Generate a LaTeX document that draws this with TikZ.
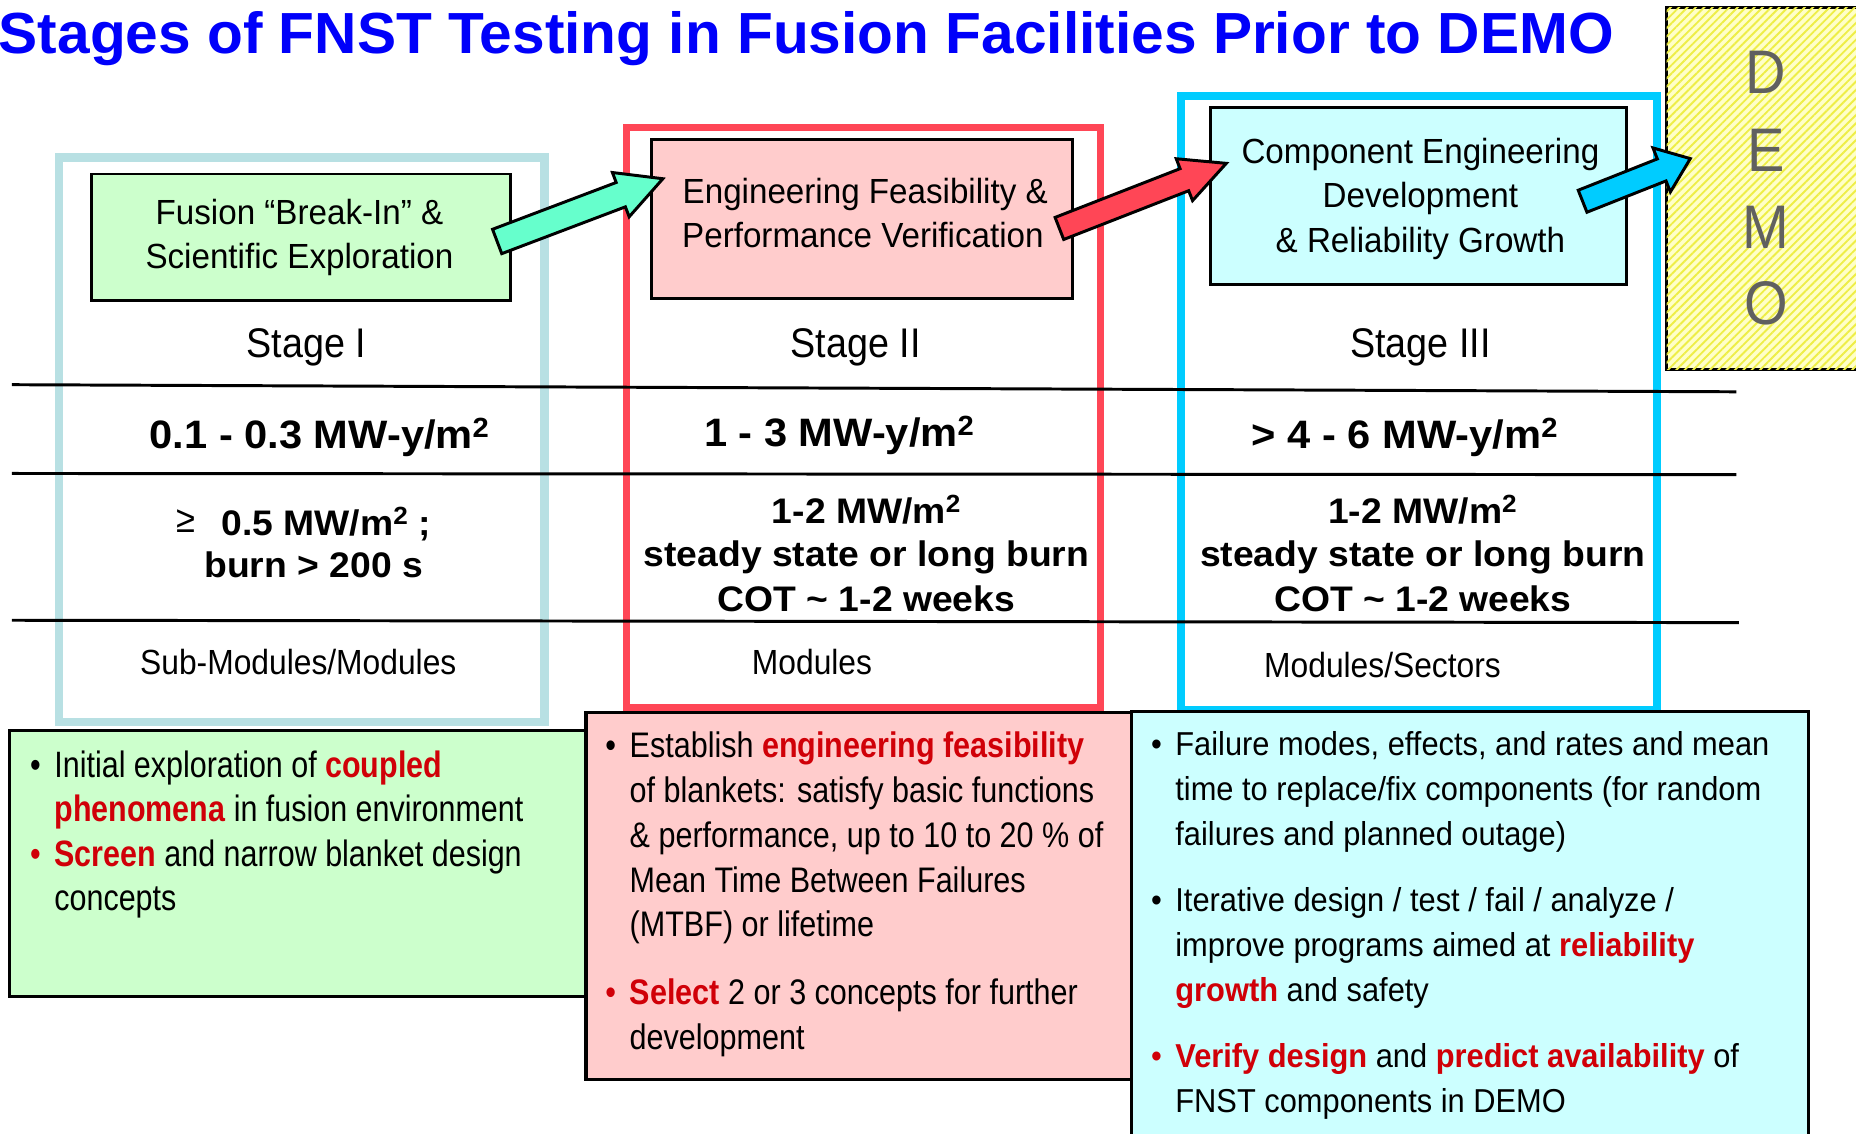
\documentclass[tikz,border=0pt]{standalone}
\usepackage{fontspec}
\setmainfont{Liberation Sans}
\newfontfamily\fTitle[FakeStretch=1.011]{Liberation Sans}
\newfontfamily\fBody[FakeStretch=0.86]{Liberation Sans}
\newfontfamily\fGreen[FakeStretch=0.83]{Liberation Sans}
\newfontfamily\fCyan[FakeStretch=0.93]{Liberation Sans}
\newfontfamily\fHead[FakeStretch=0.95]{Liberation Sans}
\newfontfamily\fStage[FakeStretch=0.91]{Liberation Sans}
\newfontfamily\fBold[FakeStretch=1.05]{Liberation Sans}
\usetikzlibrary{calc,patterns.meta}
\definecolor{titleblue}{RGB}{0,0,250}
\definecolor{frameone}{RGB}{184,224,227}
\definecolor{frametwo}{RGB}{255,70,86}
\definecolor{framethree}{RGB}{0,204,255}
\definecolor{gfill}{RGB}{204,255,204}
\definecolor{pfill}{RGB}{255,204,204}
\definecolor{cfill}{RGB}{204,255,255}
\definecolor{hl}{RGB}{208,0,8}
\definecolor{arrowone}{RGB}{102,255,204}
\definecolor{demogray}{RGB}{96,96,96}
\definecolor{demoyellow}{RGB}{255,255,200}
\definecolor{demoline}{RGB}{238,238,70}
\newcommand\hlt[1]{\textcolor{hl}{\bfseries #1}}
\newcommand\blockarrow[6]{%
  \coordinate (#1base) at ($(#2)!#5pt!(#1)$);
  \draw[blk, fill=#6] ($(#1)!#3pt!90:(#2)$) -- ($(#1base)!#3pt!90:(#2)$) -- ($(#1base)!#4pt!90:(#2)$) -- (#2) -- ($(#1base)!#4pt!-90:(#2)$) -- ($(#1base)!#3pt!-90:(#2)$) -- ($(#1)!#3pt!-90:(#2)$) -- cycle;
}
\tikzset{
 txtL/.style={inner sep=0pt, outer sep=0pt, anchor=base west},
 txtC/.style={inner sep=0pt, outer sep=0pt, anchor=base},
 fgreen/.style={font=\fGreen\fontsize{31}{36}\selectfont},
 fpink/.style={font=\fBody\fontsize{30}{36}\selectfont},
 fcyan/.style={font=\fCyan\fontsize{28}{34}\selectfont},
 fhead/.style={font=\fHead\fontsize{29.5}{35}\selectfont},
 fstage/.style={font=\fStage\fontsize{35}{42}\selectfont},
 frowtwo/.style={font=\fBold\bfseries\fontsize{33.5}{40}\selectfont},
 frowthree/.style={font=\fBold\bfseries\fontsize{30}{36}\selectfont},
 frowfour/.style={font=\fStage\fontsize{29.5}{35}\selectfont},
 fdemo/.style={font=\fStage\fontsize{52}{60}\selectfont, text=demogray},
 hbox/.style={draw=black, line width=2.5pt, inner sep=0pt, outer sep=0pt, anchor=north west},
 framebox/.style={line width=7pt, inner sep=0pt, outer sep=0pt, anchor=north west},
 rule/.style={line width=2.5pt},
 blk/.style={draw=black, line width=2.5pt, line join=miter},
}
\begin{document}
\begin{tikzpicture}[x=1pt,y=-1pt]
\clip (0,0) rectangle (1568,958);
\fill[white] (0,0) rectangle (1568,958);

% title
\node[txtL, font=\fTitle\bfseries\fontsize{49}{58}\selectfont, text=titleblue] (title) at (-1,45) {Stages of FNST Testing in Fusion Facilities Prior to DEMO};

% stage frames
\node[framebox, draw=frameone, minimum width=410pt, minimum height=477pt] (stageone) at (50,133) {};
\node[framebox, draw=frametwo, line width=6pt, minimum width=401pt, minimum height=490pt] (stagetwo) at (529,108) {};
\node[framebox, draw=framethree, minimum width=402pt, minimum height=519pt] (stagethree) at (998,81) {};

% DEMO box
\node[draw=black, line width=2.5pt, anchor=north west, inner sep=0pt, outer sep=0pt, minimum width=220pt, minimum height=306pt, fill=demoyellow, postaction={pattern={Lines[angle=45,distance=5pt,line width=1.6pt]}, pattern color=demoline}] (demo) at (1408,6) {};
\node[txtC, fdemo] (demod) at (1492,79) {D};
\node[txtC, fdemo] (demoe) at (1492,145) {E};
\node[txtC, fdemo] (demom) at (1492,210) {M};
\node[txtC, fdemo] (demoo) at (1492,274) {O};

% header boxes
\node[hbox, fill=gfill, minimum width=354pt, minimum height=107pt] (hone) at (77,147) {};
\node[hbox, fill=pfill, minimum width=356pt, minimum height=134pt] (htwo) at (550,118) {};
\node[hbox, fill=cfill, minimum width=351pt, minimum height=149pt] (hthree) at (1023,91) {};

\node[txtC, fhead] (honea) at (253,190) {Fusion “Break-In” \&};
\node[txtC, fhead] (honeb) at (253,227) {Scientific Exploration};
\node[txtC, fhead] (htwoa) at (731,172) {Engineering Feasibility \&};
\node[txtC, fhead] (htwob) at (729,209) {Performance Verification};
\node[txtC, fhead] (hthreea) at (1200,138) {Component Engineering};
\node[txtC, fhead] (hthreeb) at (1200,175) {Development};
\node[txtC, fhead] (hthreec) at (1200,213) {\& Reliability Growth};

% stage labels
\node[txtC, fstage] (sone) at (259,302) {Stage I};
\node[txtC, fstage] (stwo) at (723,302) {Stage II};
\node[txtC, fstage] (sthree) at (1200,302) {Stage III};

% rules
\coordinate (rulea1) at (10,325);
\coordinate (rulea2) at (1467,331);
\coordinate (ruleb1) at (10,400);
\coordinate (ruleb2) at (1467,401);
\coordinate (rulec1) at (10,524);
\coordinate (rulec2) at (1469,526);
\draw[rule] (rulea1) -- (rulea2);
\draw[rule] (ruleb1) -- (ruleb2);
\draw[rule] (rulec1) -- (rulec2);

% row 2
\node[txtC, frowtwo] (fluone) at (270,379) {0.1 - 0.3 MW-y/m\textsuperscript{2}};
\node[txtC, frowtwo] (flutwo) at (709,377) {1 - 3 MW-y/m\textsuperscript{2}};
\node[txtC, frowtwo] (fluthree) at (1187,379) {> 4 - 6 MW-y/m\textsuperscript{2}};

% row 3
\node[txtC, font=\fStage\fontsize{32}{36}\selectfont] (geq) at (157,450) {≥};
\node[txtL, frowthree] (wlonea) at (187,452) {0.5 MW/m\textsuperscript{2} ;};
\node[txtC, frowthree] (wloneb) at (265,488) {burn > 200 s};
\node[txtC, frowthree] (wltwoa) at (732,442) {1-2 MW/m\textsuperscript{2}};
\node[txtC, frowthree] (wltwob) at (732,479) {steady state or long burn};
\node[txtC, frowthree] (wltwoc) at (732,517) {COT \textasciitilde\ 1-2 weeks};
\node[txtC, frowthree] (wlthreea) at (1202,442) {1-2 MW/m\textsuperscript{2}};
\node[txtC, frowthree] (wlthreeb) at (1202,479) {steady state or long burn};
\node[txtC, frowthree] (wlthreec) at (1202,517) {COT \textasciitilde\ 1-2 weeks};

% row 4
\node[txtC, frowfour] (modone) at (252,570) {Sub-Modules/Modules};
\node[txtC, frowfour] (modtwo) at (686,570) {Modules};
\node[txtC, frowfour] (modthree) at (1168,572) {Modules/Sectors};

% bottom boxes
\node[hbox, line width=3pt, fill=gfill, minimum width=492pt, minimum height=225pt] (bone) at (8,617) {};
\node[hbox, line width=3pt, fill=pfill, minimum width=461pt, minimum height=310pt] (btwo) at (495,602) {};
\node[hbox, line width=3pt, fill=cfill, minimum width=572pt, minimum height=420pt] (bthree) at (956,601) {};

% green text
\node[txtC, fgreen] (gba) at (30,657) {•};
\node[txtL, fgreen] (gla) at (46,657) {Initial exploration of \hlt{coupled}};
\node[txtL, fgreen] (glb) at (46,694) {\hlt{phenomena} in fusion environment};
\node[txtC, fgreen, text=hl] (gbb) at (30,732) {•};
\node[txtL, fgreen] (glc) at (46,732) {\hlt{Screen} and narrow blanket design};
\node[txtL, fgreen] (gld) at (46,769) {concepts};

% pink text
\node[txtC, fpink] (pba) at (516,640) {•};
\node[txtL, fpink] (pla) at (532,640) {Establish \hlt{engineering feasibility}};
\node[txtL, fpink] (plb) at (532,678) {of blankets: satisfy basic functions};
\node[txtL, fpink] (plc) at (532,716) {\& performance, up to 10 to 20 \% of};
\node[txtL, fpink] (pld) at (532,754) {Mean Time Between Failures};
\node[txtL, fpink] (ple) at (532,791) {(MTBF) or lifetime};
\node[txtC, fpink, text=hl] (pbb) at (516,849) {•};
\node[txtL, fpink] (plf) at (532,849) {\hlt{Select} 2 or 3 concepts for further};
\node[txtL, fpink] (plg) at (532,887) {development};

% cyan text
\node[txtC, fcyan] (cba) at (977,638) {•};
\node[txtL, fcyan] (cla) at (993,638) {Failure modes, effects, and rates and mean};
\node[txtL, fcyan] (clb) at (993,676) {time to replace/fix components (for random};
\node[txtL, fcyan] (clc) at (993,714) {failures and planned outage)};
\node[txtC, fcyan] (cbb) at (977,770) {•};
\node[txtL, fcyan] (cld) at (993,770) {Iterative design / test / fail / analyze /};
\node[txtL, fcyan] (cle) at (993,808) {improve programs aimed at \hlt{reliability}};
\node[txtL, fcyan] (clf) at (993,846) {\hlt{growth} and safety};
\node[txtC, fcyan, text=hl] (cbc) at (977,902) {•};
\node[txtL, fcyan] (clg) at (993,902) {\hlt{Verify design} and \hlt{predict availability} of};
\node[txtL, fcyan] (clh) at (993,940) {FNST components in DEMO};

% arrows
\coordinate (aonet) at (420,204);
\coordinate (aonep) at (560,151);
\coordinate (atwot) at (895,193);
\coordinate (atwop) at (1036,138);
\coordinate (athreet) at (1337,170);
\coordinate (athreep) at (1428,134);
\blockarrow{aonet}{aonep}{11}{20}{38}{arrowone}
\blockarrow{atwot}{atwop}{10}{19}{38}{frametwo}
\blockarrow{athreet}{athreep}{10}{20}{26}{framethree}
\end{tikzpicture}
\end{document}
